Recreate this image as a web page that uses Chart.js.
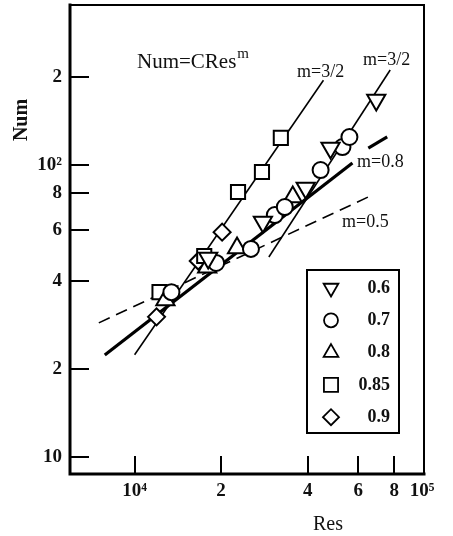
<!DOCTYPE html>
<html>
<head>
<meta charset="utf-8">
<script src="https://cdn.jsdelivr.net/npm/chart.js@4.4.1/dist/chart.umd.min.js"></script>
<style>
  body { margin: 0; background: #fff; }
  canvas { display: block; }
</style>
</head>
<body>
<canvas id="numChart" width="453" height="536"></canvas>
<script>
// legend entries
const seriesLabels = ['0.6', '0.7', '0.8', '0.85', '0.9'];

// measured points (Res, Num) per series
const res06 = [18030, 27950, 39380, 48050, 69310];
const num06 = [48.0, 63.8, 83.4, 114.3, 167];
const res07 = [13430, 19220, 25400, 30750, 33310, 44380, 52870, 55900];
const num07 = [36.7, 46.2, 51.6, 67.4, 71.8, 96.1, 115.2, 124.7];
const res08 = [12800, 17890, 22720, 35500];
const num08 = [34.5, 44.7, 52.0, 77.7];
const res085 = [12210, 17470, 22900, 27740, 32270];
const num085 = [36.7, 48.8, 80.8, 94.6, 123.8];
const res09 = [11920, 16650, 20160];
const num09 = [30.2, 46.9, 58.9];

// fitted lines Num = C Res^m
const fitLeftRes = [10000, 45400];      // m=3/2
const fitLeftNum = [22.4, 195];
const fitRightRes = [29320, 77490];     // m=3/2
const fitRightNum = [48.4, 211.5];
const fit08Res = [7874, 57260];         // m=0.8
const fit08Num = [22.35, 101.6];
const fit08bRes = [65040, 75650];
const fit08bNum = [114.3, 124.7];
const fit05Res = [7508, 67140];         // m=0.5
const fit05Num = [28.8, 78.9];

// axis ticks
const xTickValues = [10000, 20000, 40000, 60000, 80000, 100000];
const xTickLabels = ['10\u2074', '2', '4', '6', '8', '10\u2075'];
const yTickValues = [10, 20, 40, 60, 80, 100, 200];
const yTickLabels = ['10', '2', '4', '6', '8', '10\u00b2', '2'];

const serif = "'Liberation Serif', 'Times New Roman', serif";
const markerStyles = ['triangleDown', 'circle', 'triangle', 'rect', 'rectRot'];

function pts(xs, ys) {
    return xs.map((x, i) => ({ x: x, y: ys[i] }));
}

function markerSet(label, xs, ys, style, r) {
    return {
        label: label,
        data: pts(xs, ys),
        showLine: false,
        pointStyle: style === 'triangleDown' ? 'triangle' : style,
        rotation: style === 'triangleDown' ? 180 : 0,
        pointRadius: r,
        pointBorderWidth: 2,
        pointBorderColor: '#000',
        pointBackgroundColor: '#fff',
        order: 0
    };
}

function lineSet(xs, ys, width, dash) {
    return {
        data: pts(xs, ys),
        showLine: true,
        pointRadius: 0,
        borderColor: '#000',
        borderWidth: width,
        borderDash: dash || [],
        order: 1
    };
}

function drawMarker(ctx, style, x, y, r) {
    ctx.beginPath();
    if (style === 'circle') {
        ctx.arc(x, y, r, 0, Math.PI * 2);
    } else if (style === 'rect') {
        const s = r * Math.SQRT1_2;
        ctx.rect(x - s, y - s, 2 * s, 2 * s);
    } else if (style === 'rectRot') {
        ctx.moveTo(x - r, y); ctx.lineTo(x, y - r);
        ctx.lineTo(x + r, y); ctx.lineTo(x, y + r);
        ctx.closePath();
    } else {
        const d = style === 'triangleDown' ? -1 : 1;
        const h = r * Math.sin(Math.PI / 3);
        ctx.moveTo(x, y - d * r);
        ctx.lineTo(x + h, y + d * r / 2);
        ctx.lineTo(x - h, y + d * r / 2);
        ctx.closePath();
    }
    ctx.fillStyle = '#fff';
    ctx.fill();
    ctx.stroke();
}

// frame, inward ticks, annotations, axis titles and legend box
const decorPlugin = {
    id: 'decor',
    afterDatasetsDraw(chart) {
        const ctx = chart.ctx;
        const a = chart.chartArea;
        const xs = chart.scales.x, ys = chart.scales.y;
        ctx.save();
        ctx.strokeStyle = '#000';
        ctx.lineCap = 'square';

        // frame
        ctx.lineWidth = 3;
        ctx.beginPath();
        ctx.moveTo(a.left, a.top); ctx.lineTo(a.left, a.bottom); ctx.lineTo(a.right, a.bottom);
        ctx.stroke();
        ctx.lineWidth = 2;
        ctx.beginPath();
        ctx.moveTo(a.left, a.top); ctx.lineTo(a.right, a.top); ctx.lineTo(a.right, a.bottom);
        ctx.stroke();

        // inward ticks
        ctx.lineWidth = 2;
        ctx.lineCap = 'butt';
        xTickValues.slice(0, -1).forEach(v => {
            const px = Math.round(xs.getPixelForValue(v));
            ctx.beginPath(); ctx.moveTo(px, a.bottom); ctx.lineTo(px, a.bottom - 18); ctx.stroke();
        });
        yTickValues.forEach(v => {
            const py = Math.round(ys.getPixelForValue(v));
            ctx.beginPath(); ctx.moveTo(a.left, py); ctx.lineTo(a.left + 19, py); ctx.stroke();
        });

        // annotations
        ctx.fillStyle = '#111';
        ctx.textBaseline = 'middle';
        ctx.textAlign = 'left';
        ctx.font = '21px ' + serif;
        ctx.fillText('Num=CRes', 137, 62);
        const w = ctx.measureText('Num=CRes').width;
        ctx.font = '15px ' + serif;
        ctx.fillText('m', 137 + w + 1, 54);
        ctx.font = '18px ' + serif;
        ctx.fillText('m=3/2', 297, 72);
        ctx.fillText('m=3/2', 363, 60);
        ctx.fillText('m=0.8', 357, 162);
        ctx.fillText('m=0.5', 342, 222);

        // axis titles
        ctx.textAlign = 'center';
        ctx.font = '20px ' + serif;
        ctx.fillText('Res', 328, 525);
        ctx.save();
        ctx.translate(22, 120);
        ctx.rotate(-Math.PI / 2);
        ctx.font = 'bold 20px ' + serif;
        ctx.fillText('Num', 0, 0);
        ctx.restore();

        // legend
        ctx.lineWidth = 2;
        ctx.strokeRect(307, 270, 92, 163);
        const legendR = [8.5, 7, 8.5, 10, 8];
        ctx.font = 'bold 18px ' + serif;
        ctx.textAlign = 'right';
        seriesLabels.forEach((lab, i) => {
            const y = 288 + i * 32.3;
            ctx.strokeStyle = '#000';
            ctx.lineWidth = 1.8;
            drawMarker(ctx, markerStyles[i], 331, y, legendR[i]);
            ctx.fillStyle = '#111';
            ctx.fillText(lab, 390, y);
        });
        ctx.restore();
    }
};

const tickFont = { family: serif, size: 19, weight: 'bold' };

new Chart(document.getElementById('numChart'), {
    type: 'scatter',
    data: {
        datasets: [
            markerSet(seriesLabels[0], res06, num06, markerStyles[0], 10.5),
            markerSet(seriesLabels[1], res07, num07, markerStyles[1], 8),
            markerSet(seriesLabels[2], res08, num08, markerStyles[2], 10.5),
            markerSet(seriesLabels[3], res085, num085, markerStyles[3], 10),
            markerSet(seriesLabels[4], res09, num09, markerStyles[4], 8.5),
            lineSet(fitLeftRes, fitLeftNum, 1.6),
            lineSet(fitRightRes, fitRightNum, 1.6),
            lineSet(fit08Res, fit08Num, 3.2),
            lineSet(fit08bRes, fit08bNum, 3.2),
            lineSet(fit05Res, fit05Num, 1.6, [12, 7])
        ]
    },
    options: {
        responsive: false,
        animation: false,
        devicePixelRatio: 1,
        layout: { autoPadding: false, padding: { top: 5, right: 29, left: 0, bottom: 0 } },
        plugins: {
            legend: { display: false },
            tooltip: { enabled: false }
        },
        scales: {
            x: {
                type: 'logarithmic',
                min: 5960,
                max: 101600,
                afterBuildTicks: s => { s.ticks = xTickValues.map(v => ({ value: v })); },
                afterFit: s => { s.height = 62; s.paddingLeft = 0; s.paddingRight = 0; },
                grid: { display: false, drawTicks: false },
                border: { display: false },
                ticks: {
                    autoSkip: false, maxRotation: 0, padding: 6, color: '#111', font: tickFont,
                    callback: (v, i) => xTickLabels[i]
                }
            },
            y: {
                type: 'logarithmic',
                min: 8.75,
                max: 353,
                afterBuildTicks: s => { s.ticks = yTickValues.map(v => ({ value: v })); },
                afterFit: s => { s.width = 70; s.paddingTop = 0; s.paddingBottom = 0; },
                grid: { display: false, drawTicks: false },
                border: { display: false },
                ticks: {
                    autoSkip: false, padding: 8, color: '#111', font: tickFont,
                    callback: (v, i) => yTickLabels[i]
                }
            }
        }
    },
    plugins: [decorPlugin]
});
</script>
</body>
</html>
